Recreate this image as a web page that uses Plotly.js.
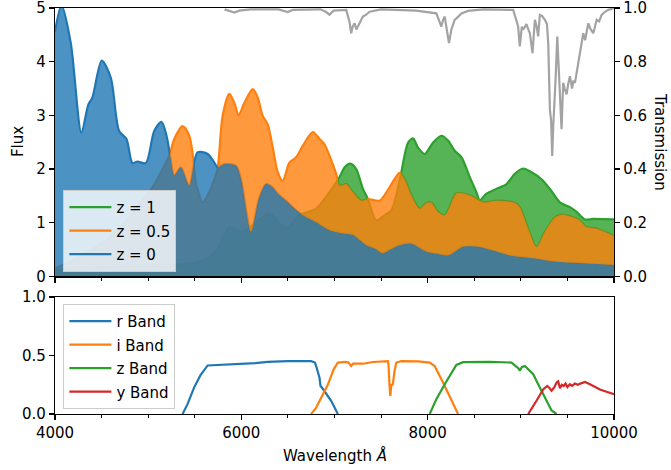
<!DOCTYPE html>
<html>
<head>
<meta charset="utf-8">
<script src="https://cdn.plot.ly/plotly-3.0.1.min.js"></script>
<style>
  html, body { margin: 0; padding: 0; background: #ffffff; }
  #chart { width: 671px; height: 470px; }
</style>
</head>
<body>
<div id="chart"></div>
<script>
// Galaxy template spectra at three redshifts (wavelength in Å, flux in arbitrary units)
const z0Wave = [4000, 4070, 4169, 4283, 4358, 4401, 4502, 4599, 4688, 4767, 4831, 4885, 4975, 5065, 5143, 5197, 5240, 5280, 5351, 5441, 5530, 5638, 5710, 5745, 5817, 5943, 5996, 6104, 6190, 6265, 6320, 6409, 6498, 6570, 6659, 6803, 6946, 7090, 7197, 7341, 7430, 7520, 7600, 7699, 7825, 7986, 8100, 8219, 8300, 8380, 8541, 8700, 8882, 9168, 9384, 9700, 10000];
const z0Flux = [4.56, 5.05, 4.35, 2.68, 3.20, 3.33, 4.02, 3.70, 2.71, 2.56, 2.11, 2.14, 2.11, 2.71, 2.88, 2.62, 2.20, 1.88, 2.03, 1.69, 2.31, 2.28, 2.12, 2.03, 2.09, 2.06, 1.81, 0.83, 1.45, 1.72, 1.68, 1.51, 1.38, 1.26, 1.14, 1.01, 0.86, 0.80, 0.77, 0.58, 0.52, 0.43, 0.50, 0.58, 0.61, 0.46, 0.42, 0.39, 0.47, 0.55, 0.55, 0.48, 0.39, 0.33, 0.27, 0.24, 0.21];

const z05Wave = [4000, 4200, 4400, 4600, 4800, 4950, 5011, 5118, 5226, 5280, 5369, 5441, 5484, 5510, 5530, 5584, 5656, 5710, 5745, 5799, 5871, 5925, 5971, 6032, 6122, 6176, 6229, 6283, 6337, 6391, 6444, 6516, 6588, 6659, 6767, 6839, 6892, 6946, 7018, 7054, 7126, 7197, 7287, 7359, 7484, 7570, 7640, 7699, 7753, 7825, 7914, 7986, 8040, 8111, 8183, 8272, 8308, 8452, 8595, 8738, 8935, 8989, 9079, 9168, 9258, 9366, 9437, 9562, 9634, 9706, 9814, 10000];
const z05Flux = [0.15, 0.30, 0.50, 0.75, 1.10, 1.45, 1.57, 1.88, 2.25, 2.56, 2.80, 2.62, 2.19, 1.75, 1.62, 1.38, 1.57, 1.81, 2.00, 2.99, 3.40, 3.23, 3.00, 3.23, 3.49, 3.33, 2.99, 2.83, 2.40, 1.94, 1.78, 2.12, 2.22, 2.43, 2.69, 2.56, 2.46, 2.25, 1.91, 1.69, 1.72, 1.57, 1.41, 1.44, 1.41, 1.60, 1.80, 1.93, 1.81, 1.51, 1.26, 1.37, 1.37, 1.20, 1.14, 1.44, 1.55, 1.51, 1.38, 1.41, 1.37, 1.29, 0.89, 0.55, 0.83, 1.10, 1.15, 1.10, 1.04, 0.92, 0.89, 0.75];

const z1Wave = [4000, 4300, 4700, 5000, 5300, 5548, 5728, 5871, 6014, 6150, 6301, 6480, 6624, 6803, 6946, 7054, 7108, 7169, 7233, 7305, 7359, 7448, 7538, 7610, 7663, 7717, 7789, 7843, 7896, 7968, 8057, 8147, 8219, 8290, 8362, 8452, 8523, 8559, 8631, 8738, 8846, 8935, 9025, 9115, 9222, 9312, 9419, 9527, 9599, 9688, 9778, 10000];
const z1Flux = [0.12, 0.15, 0.18, 0.20, 0.22, 0.27, 0.46, 0.92, 0.83, 1.00, 1.17, 0.89, 1.14, 1.26, 1.57, 1.85, 2.03, 2.10, 2.00, 1.63, 1.44, 1.04, 1.14, 1.23, 1.51, 1.94, 2.49, 2.57, 2.40, 2.28, 2.49, 2.62, 2.53, 2.34, 2.22, 1.85, 1.57, 1.42, 1.54, 1.63, 1.72, 1.91, 2.01, 1.94, 1.81, 1.63, 1.38, 1.29, 1.20, 1.06, 1.07, 1.06];

// Atmospheric transmission (right axis)
const transWave = [5820, 5871, 5925, 5978, 6100, 6400, 6444, 6498, 6550, 6850, 6911, 6946, 6990, 7126, 7160, 7179, 7195, 7215, 7235, 7251, 7275, 7305, 7340, 7376, 7500, 7878, 8093, 8147, 8165, 8183, 8205, 8229, 8254, 8270, 8290, 8320, 8362, 8434, 8600, 8918, 8950, 8971, 8989, 9010, 9025, 9060, 9080, 9097, 9125, 9138, 9151, 9170, 9186, 9204, 9230, 9258, 9280, 9294, 9312, 9325, 9337, 9348, 9358, 9375, 9391, 9405, 9419, 9437, 9447, 9455, 9470, 9491, 9510, 9527, 9550, 9565, 9581, 9600, 9616, 9640, 9670, 9690, 9724, 9750, 9778, 9814, 9840, 9867, 9900, 9939, 10000];
const transVal = [0.995, 0.99, 0.983, 0.99, 0.995, 0.995, 0.99, 0.985, 0.993, 0.995, 0.985, 0.975, 0.99, 0.993, 0.95, 0.906, 0.93, 0.943, 0.92, 0.931, 0.95, 0.968, 0.975, 0.986, 0.995, 0.99, 0.98, 0.931, 0.955, 0.968, 0.92, 0.869, 0.919, 0.94, 0.956, 0.965, 0.98, 0.989, 0.995, 0.993, 0.96, 0.931, 0.857, 0.93, 0.919, 0.94, 0.92, 0.906, 0.832, 0.92, 0.956, 0.93, 0.894, 0.974, 0.97, 0.956, 0.94, 0.869, 0.622, 0.58, 0.449, 0.56, 0.622, 0.75, 0.894, 0.80, 0.721, 0.548, 0.65, 0.721, 0.70, 0.678, 0.72, 0.746, 0.70, 0.73, 0.721, 0.76, 0.783, 0.84, 0.906, 0.88, 0.943, 0.92, 0.906, 0.956, 0.95, 0.974, 0.985, 0.993, 1.0];

// Filter response curves
const rWave = [5369, 5420, 5495, 5560, 5638, 5781, 5996, 6150, 6283, 6498, 6749, 6790, 6803, 6839, 6850, 6870, 6964, 7036];
const rResp = [0.0, 0.08, 0.23, 0.33, 0.415, 0.42, 0.43, 0.435, 0.445, 0.452, 0.452, 0.44, 0.41, 0.31, 0.24, 0.22, 0.113, 0.0];
const iWave = [6749, 6800, 6857, 6928, 6990, 7036, 7120, 7150, 7179, 7200, 7305, 7412, 7573, 7580, 7590, 7599, 7610, 7625, 7645, 7663, 7717, 7900, 8022, 8075, 8165, 8254, 8326];
const iResp = [0.0, 0.05, 0.14, 0.25, 0.38, 0.44, 0.445, 0.44, 0.41, 0.43, 0.43, 0.445, 0.452, 0.42, 0.25, 0.155, 0.25, 0.25, 0.37, 0.44, 0.452, 0.45, 0.44, 0.41, 0.27, 0.127, 0.0];
const zWave = [8022, 8093, 8183, 8240, 8308, 8380, 8667, 8900, 8953, 8975, 8989, 9010, 9043, 9080, 9133, 9186, 9258, 9330, 9384];
const zResp = [0.0, 0.127, 0.254, 0.33, 0.42, 0.443, 0.446, 0.44, 0.41, 0.39, 0.37, 0.40, 0.41, 0.38, 0.34, 0.254, 0.14, 0.03, 0.0];
const yWave = [9079, 9120, 9168, 9240, 9283, 9310, 9330, 9360, 9384, 9401, 9420, 9440, 9460, 9480, 9500, 9527, 9550, 9580, 9610, 9640, 9688, 9742, 9800, 9849, 9920, 10000];
const yResp = [0.0, 0.05, 0.113, 0.21, 0.24, 0.22, 0.20, 0.23, 0.27, 0.28, 0.22, 0.25, 0.24, 0.26, 0.23, 0.254, 0.24, 0.26, 0.25, 0.26, 0.274, 0.254, 0.23, 0.21, 0.19, 0.17];

const spectraNames = ['z = 1', 'z = 0.5', 'z = 0'];
const bandNames = ['r Band', 'i Band', 'z Band', 'y Band'];
const wavelengthTicks = [4000, 6000, 8000, 10000];
const fluxTicks = [0, 1, 2, 3, 4, 5];
const transTicks = [0, 0.2, 0.4, 0.6, 0.8, 1.0];
const bandTicks = [0, 0.5, 1.0];

const C = { blue: '#1f77b4', orange: '#ff7f0e', green: '#2ca02c', red: '#d62728' };
const FILL = {
  blue: 'rgba(31,119,180,0.8)',
  orange: 'rgba(255,127,14,0.8)',
  green: 'rgba(44,160,44,0.8)'
};
const FONT = 'DejaVu Sans, sans-serif';
const LW = 2.2;

const spectra = [
  { x: z1Wave, y: z1Flux, col: C.green, fill: FILL.green, name: spectraNames[0] },
  { x: z05Wave, y: z05Flux, col: C.orange, fill: FILL.orange, name: spectraNames[1] },
  { x: z0Wave, y: z0Flux, col: C.blue, fill: FILL.blue, name: spectraNames[2] }
];

const traces = [];
// outlines first, so each later translucent fill sits over earlier outlines
spectra.forEach((s, k) => {
  traces.push({
    x: s.x, y: s.y, type: 'scatter', mode: 'lines', name: s.name,
    xaxis: 'x', yaxis: 'y', legend: 'legend', legendgroup: 'g' + k,
    line: { color: s.col, width: LW, shape: 'spline', smoothing: 0.8 },
    hoverinfo: 'skip'
  });
});
spectra.forEach((s) => {
  traces.push({
    x: s.x, y: s.y, type: 'scatter', mode: 'lines', showlegend: false,
    xaxis: 'x', yaxis: 'y', fill: 'tozeroy', fillcolor: s.fill,
    line: { color: 'rgba(0,0,0,0)', width: 0, shape: 'spline', smoothing: 0.8 },
    hoverinfo: 'skip'
  });
});
// transmission on the twin axis
traces.push({
  x: transWave, y: transVal, type: 'scatter', mode: 'lines', showlegend: false,
  xaxis: 'x', yaxis: 'y3', line: { color: '#a3a3a3', width: LW }, hoverinfo: 'skip'
});

const bands = [
  { x: rWave, y: rResp, col: C.blue },
  { x: iWave, y: iResp, col: C.orange },
  { x: zWave, y: zResp, col: C.green },
  { x: yWave, y: yResp, col: C.red }
];
bands.forEach((b, k) => {
  traces.push({
    x: b.x, y: b.y, type: 'scatter', mode: 'lines', name: bandNames[k],
    xaxis: 'x2', yaxis: 'y2', legend: 'legend2', legendgroup: 'b' + k,
    line: { color: b.col, width: LW }, hoverinfo: 'skip'
  });
});

const tickFont = { family: FONT, size: 15, color: '#000000' };
const baseX = {
  range: [4000, 10000], showgrid: false, zeroline: false,
  showline: true, mirror: true, linecolor: '#000000', linewidth: 1.2,
  tickmode: 'array', tickvals: wavelengthTicks, ticktext: wavelengthTicks.map(String),
  ticks: 'outside', ticklen: 5, tickwidth: 1.2, tickcolor: '#000000',
  minor: { tick0: 4000, dtick: 500, ticks: 'outside', ticklen: 3, tickwidth: 1, tickcolor: '#000000' },
  tickfont: tickFont, ticklabeloverflow: 'allow'
};
const baseY = {
  showgrid: false, zeroline: false, showline: true,
  linecolor: '#000000', linewidth: 1.2, tickmode: 'array',
  ticks: 'outside', ticklen: 5, tickwidth: 1.2, tickcolor: '#000000', tickfont: tickFont,
  ticklabeloverflow: 'allow'
};

const legendCommon = {
  bgcolor: 'rgba(255,255,255,0.8)', bordercolor: '#cccccc', borderwidth: 1,
  font: { family: FONT, size: 15, color: '#000000' },
  xanchor: 'left', traceorder: 'grouped', tracegroupgap: 1
};

const layout = {
  width: 671, height: 470,
  margin: { l: 55, r: 57, t: 8, b: 56, pad: 0 },
  paper_bgcolor: '#ffffff', plot_bgcolor: '#ffffff',
  font: { family: FONT, size: 15, color: '#000000' },
  xaxis: Object.assign({}, baseX, { anchor: 'y', domain: [0, 1], showticklabels: false }),
  xaxis2: Object.assign({}, baseX, { anchor: 'y2', domain: [0, 1], matches: 'x' }),
  yaxis: Object.assign({}, baseY, {
    domain: [0.339, 1], range: [0, 5], mirror: true,
    tickvals: fluxTicks, ticktext: fluxTicks.map(String)
  }),
  yaxis3: Object.assign({}, baseY, {
    overlaying: 'y', side: 'right', anchor: 'x', range: [0, 1],
    tickvals: transTicks, ticktext: transTicks.map(v => v.toFixed(1))
  }),
  yaxis2: Object.assign({}, baseY, {
    domain: [0, 0.288], range: [0, 1], mirror: true,
    tickvals: bandTicks, ticktext: bandTicks.map(v => v.toFixed(1))
  }),
  legend: Object.assign({}, legendCommon, { x: 0.015, y: 0.35, yanchor: 'bottom', itemwidth: 42 }),
  legend2: Object.assign({}, legendCommon, { x: 0.015, y: 0.271, yanchor: 'top', itemwidth: 42 }),
  annotations: [
    { text: 'Flux', xref: 'paper', yref: 'paper', x: -0.066, y: 0.670, textangle: -90,
      showarrow: false, xanchor: 'center', yanchor: 'middle', font: { family: FONT, size: 15, color: '#000' } },
    { text: 'Transmission', xref: 'paper', yref: 'paper', x: 1.0823, y: 0.670, textangle: 90,
      showarrow: false, xanchor: 'center', yanchor: 'middle', font: { family: FONT, size: 15, color: '#000' } },
    { text: 'Wavelength <i>Å</i>', xref: 'paper', yref: 'paper', x: 0.5, y: -0.101,
      showarrow: false, xanchor: 'center', yanchor: 'middle', font: { family: FONT, size: 15, color: '#000' } }
  ],
  showlegend: true
};

Plotly.newPlot('chart', traces, layout, { staticPlot: true, displayModeBar: false });
</script>
</body>
</html>
